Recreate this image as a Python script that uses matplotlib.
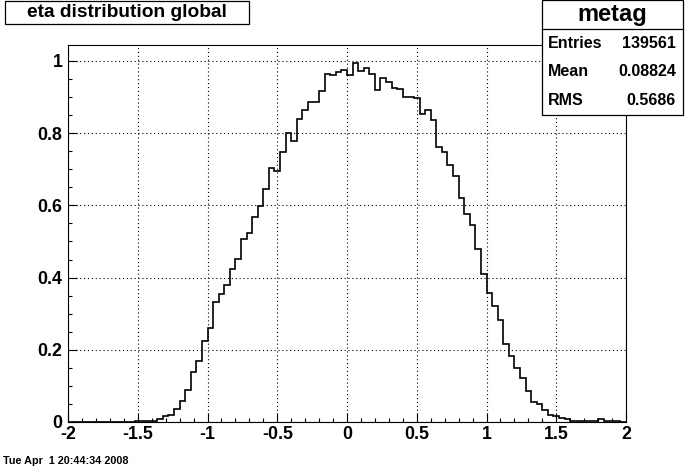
import numpy as np
import matplotlib
matplotlib.use("Agg")
import matplotlib.pyplot as plt
from matplotlib.patches import Rectangle
from matplotlib.ticker import MultipleLocator

plt.rcParams['font.family'] = ['Liberation Sans', 'DejaVu Sans']
plt.rcParams['font.weight'] = 'bold'

# histogram "metag": 100 bins from -2 to 2
bin_edges = np.linspace(-2.0, 2.0, 101)
eta_values = [
    0, 0, 0, 0, 0, 0, 0, 0, 0, 0,
    0.001, 0.001, 0.002, 0.003, 0.003, 0.004, 0.008, 0.017, 0.020, 0.035,
    0.057, 0.090, 0.138, 0.168, 0.224, 0.260, 0.332, 0.355, 0.379, 0.423,
    0.451, 0.506, 0.523, 0.567, 0.598, 0.645, 0.703, 0.695, 0.747, 0.800,
    0.778, 0.838, 0.863, 0.886, 0.886, 0.916, 0.964, 0.960, 0.969, 0.974,
    0.960, 0.994, 0.971, 0.980, 0.963, 0.919, 0.952, 0.941, 0.924, 0.922,
    0.899, 0.899, 0.897, 0.853, 0.863, 0.836, 0.761, 0.748, 0.711, 0.680,
    0.620, 0.577, 0.546, 0.480, 0.410, 0.356, 0.320, 0.283, 0.215, 0.184,
    0.150, 0.121, 0.085, 0.055, 0.050, 0.033, 0.019, 0.017, 0.011, 0.007,
    0.004, 0.002, 0.002, 0.004, 0.002, 0.007, 0.002, 0.002, 0.002, 0,
]
x_ticks = [-2, -1.5, -1, -0.5, 0, 0.5, 1, 1.5, 2]
x_tick_labels = ['-2', '-1.5', '-1', '-0.5', '0', '0.5', '1', '1.5', '2']
y_ticks = [0, 0.2, 0.4, 0.6, 0.8, 1]
y_tick_labels = ['0', '0.2', '0.4', '0.6', '0.8', '1']

title = 'eta distribution global'
stats_name = 'metag'
stats_rows = [('Entries', '139561'), ('Mean', '0.08824'), ('RMS', '0.5686')]
date_str = 'Tue Apr  1 20:44:34 2008'

W, H = 686, 468
fig = plt.figure(figsize=(W / 100, H / 100), dpi=100)
ax = fig.add_axes([68 / W, 46 / H, 558 / W, 377 / H])

ax.stairs(eta_values, bin_edges, color='black', linewidth=1.2)

ax.set_xlim(-2, 2)
ax.set_ylim(0, 1.044)
ax.set_xticks(x_ticks)
ax.set_xticklabels(x_tick_labels)
ax.set_yticks(y_ticks)
ax.set_yticklabels(y_tick_labels)
ax.xaxis.set_minor_locator(MultipleLocator(0.1))
ax.yaxis.set_minor_locator(MultipleLocator(0.05))
ax.tick_params(which='both', direction='in', top=False, right=False,
               labelsize=12.8, width=0.8)
ax.tick_params(which='major', length=6.5)
ax.tick_params(which='minor', length=3.2)
ax.tick_params(axis='y', pad=4)
ax.tick_params(axis='x', pad=3)
for lbl in ax.get_xticklabels() + ax.get_yticklabels():
    lbl.set_fontweight('bold')
ax.grid(True, which='major', color='black', linestyle=(0, (1, 2.5)), linewidth=0.8)
for sp in ax.spines.values():
    sp.set_linewidth(0.8)

# title box
fig.patches.append(Rectangle((5 / W, 1 - 24 / H), 244 / W, 23 / H, transform=fig.transFigure,
                             facecolor='white', edgecolor='black', linewidth=0.9, zorder=5))
fig.text(127 / W, 1 - 12.5 / H, title, ha='center', va='center', fontsize=13.8,
         fontweight='bold', zorder=6)

# stats box
fig.patches.append(Rectangle((541.5 / W, 1 - 114.5 / H), 141 / W, 114 / H, transform=fig.transFigure,
                             facecolor='white', edgecolor='black', linewidth=0.9, zorder=5))
fig.lines.append(plt.Line2D([541.5 / W, 682.5 / W], [1 - 29.3 / H, 1 - 29.3 / H],
                            transform=fig.transFigure, color='black', linewidth=0.9, zorder=6))
fig.text(612 / W, 1 - 14.5 / H, stats_name, ha='center', va='center', fontsize=17,
         fontweight='bold', zorder=6)
for i, (name, val) in enumerate(stats_rows):
    yy = 1 - (43.5 + 28.5 * i) / H
    fig.text(548 / W, yy, name, ha='left', va='center', fontsize=11.5, fontweight='bold', zorder=6)
    fig.text(676 / W, yy, val, ha='right', va='center', fontsize=11.5, fontweight='bold', zorder=6)

fig.text(3 / W, 7 / H, date_str, ha='left', va='center', fontsize=7.8, fontweight='bold')

fig.savefig('out.png', dpi=100)
